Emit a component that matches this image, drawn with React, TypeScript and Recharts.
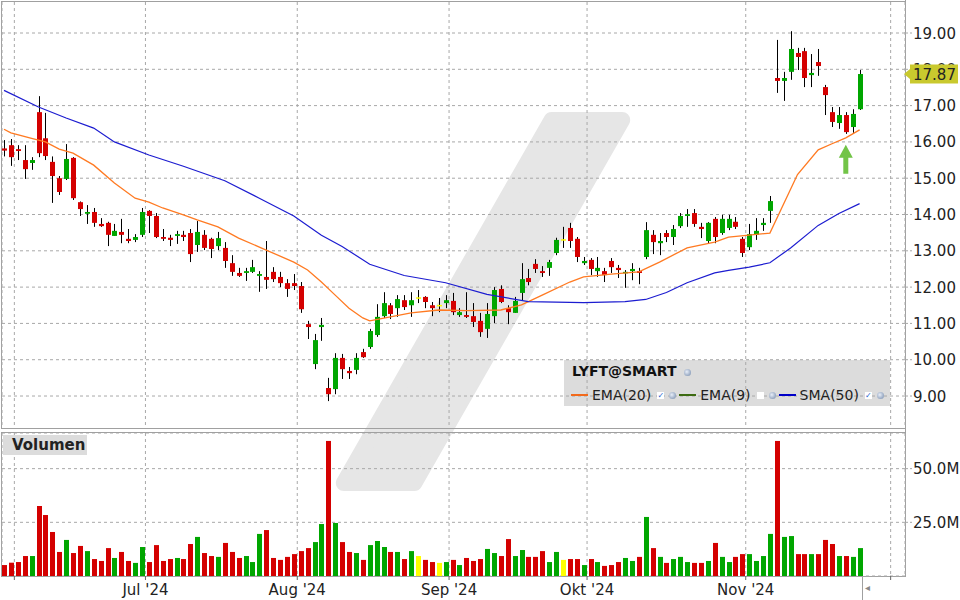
import React from 'react';
import {
  ComposedChart,
  Bar,
  Line,
  XAxis,
  YAxis,
  CartesianGrid,
  ReferenceDot,
} from 'recharts';

// daily OHLC (Jun - Nov 2024)
const opens = [
  15.82, 15.91, 15.8, 15.5, 15.42, 16.82, 16.1, 15.45, 15.0, 14.98,
  15.56, 14.34, 14.02, 14.07, 13.74, 13.77, 13.41, 13.52, 13.33, 13.3,
  13.44, 14.1, 13.96, 13.38, 13.36, 13.41, 13.44, 13.49, 13.16, 13.44,
  13.33, 13.13, 13.08, 12.66, 12.39, 12.39, 12.42, 12.31, 12.28, 12.42,
  12.28, 12.11, 12.11, 12.03, 10.98, 9.88, 10.9, 9.22, 9.19, 10.05,
  9.69, 9.72, 10.21, 10.35, 10.68, 11.2, 11.5, 11.42, 11.64, 11.5,
  11.72, 11.73, 11.5, 11.51, 11.56, 11.62, 11.23, 11.23, 11.2, 11.07,
  10.85, 11.2, 11.95, 11.42, 11.29, 11.84, 12.25, 12.64, 12.44, 12.53,
  12.94, 13.32, 13.63, 13.33, 12.66, 12.75, 12.44, 12.44, 12.72, 12.53,
  12.39, 12.44, 12.44, 12.83, 13.44, 13.21, 13.49, 13.38, 13.68, 13.96,
  14.04, 13.66, 13.27, 13.88, 13.49, 13.63, 13.8, 13.33, 13.1, 13.44,
  13.71, 14.1, 17.76, 17.68, 17.93, 18.45, 18.5, 17.84, 18.2, 17.51,
  16.82, 16.52, 16.74, 16.41, 16.9,
];
const highs = [
  16.05, 16.08, 15.91, 15.91, 15.58, 17.26, 16.8, 15.6, 15.06, 15.94,
  15.58, 14.36, 14.26, 14.18, 13.9, 13.8, 13.74, 13.88, 13.6, 13.46,
  14.18, 14.12, 14.04, 13.6, 13.44, 13.55, 13.55, 13.6, 13.82, 13.57,
  13.36, 13.52, 13.24, 12.88, 12.53, 12.53, 12.75, 12.44, 13.27, 12.55,
  12.42, 12.22, 12.36, 12.14, 11.07, 10.71, 11.15, 9.5, 10.18, 10.16,
  9.8, 10.18, 10.3, 10.85, 11.53, 11.86, 11.56, 11.78, 11.78, 11.86,
  11.92, 11.75, 11.59, 11.7, 11.78, 11.84, 11.42, 11.86, 11.56, 11.29,
  11.56, 12.0, 12.05, 11.5, 11.73, 12.66, 12.5, 12.77, 12.58, 12.75,
  13.36, 13.66, 13.77, 13.38, 12.83, 12.8, 12.83, 12.53, 12.8, 12.61,
  12.47, 12.66, 12.53, 13.79, 13.57, 13.49, 13.57, 13.71, 14.04, 14.15,
  14.15, 13.77, 13.79, 13.93, 13.99, 13.99, 13.93, 13.38, 13.74, 13.9,
  13.9, 14.51, 18.81, 17.93, 19.05, 18.59, 18.59, 18.42, 18.56, 17.57,
  16.96, 16.96, 16.82, 16.9, 17.98,
];
const lows = [
  15.6, 15.34, 15.5, 14.98, 15.23, 15.58, 15.5, 14.32, 14.54, 14.95,
  14.4, 13.96, 13.74, 13.66, 13.66, 13.13, 13.41, 13.21, 13.21, 13.24,
  13.38, 13.49, 13.35, 13.27, 13.13, 13.19, 13.27, 12.69, 12.97, 13.02,
  12.8, 13.02, 12.53, 12.31, 12.28, 12.17, 12.39, 11.87, 11.95, 12.14,
  12.0, 11.73, 11.92, 11.29, 10.57, 9.74, 10.52, 8.86, 9.05, 9.47,
  9.47, 9.6, 10.05, 10.3, 10.63, 11.15, 11.12, 11.18, 11.37, 11.18,
  11.56, 11.42, 11.2, 11.31, 11.42, 11.23, 11.18, 11.15, 10.9, 10.63,
  10.6, 11.01, 11.56, 10.98, 11.29, 11.64, 12.05, 12.39, 12.28, 12.31,
  12.88, 13.08, 13.08, 12.69, 12.61, 12.33, 12.28, 12.14, 12.39, 12.25,
  11.98, 12.19, 12.08, 12.77, 12.91, 12.88, 13.24, 13.16, 13.63, 13.66,
  13.66, 13.35, 13.21, 13.21, 13.44, 13.57, 13.6, 12.83, 13.02, 13.3,
  13.55, 13.77, 17.35, 17.13, 17.71, 17.98, 17.51, 17.51, 17.82, 16.74,
  16.41, 16.36, 16.22, 16.25, 16.88,
];
const closes = [
  15.76, 15.58, 15.75, 15.25, 15.5, 15.69, 15.61, 15.06, 14.62, 15.53,
  14.45, 14.15, 14.07, 13.77, 13.68, 13.44, 13.55, 13.44, 13.27, 13.38,
  14.07, 13.96, 13.38, 13.33, 13.3, 13.46, 13.38, 12.91, 13.52, 13.08,
  13.05, 13.35, 12.72, 12.42, 12.31, 12.44, 12.55, 12.36, 12.2, 12.22,
  12.11, 11.95, 12.03, 11.39, 10.9, 10.54, 10.96, 9.05, 10.05, 9.74,
  9.63, 10.05, 10.07, 10.79, 11.18, 11.56, 11.26, 11.67, 11.45, 11.64,
  11.72, 11.59, 11.42, 11.51, 11.64, 11.31, 11.31, 11.18, 11.04, 10.76,
  11.26, 11.92, 11.59, 11.31, 11.62, 12.22, 12.14, 12.5, 12.39, 12.69,
  13.3, 13.32, 13.27, 12.83, 12.72, 12.5, 12.53, 12.33, 12.55, 12.47,
  12.42, 12.5, 12.39, 13.57, 13.24, 13.27, 13.38, 13.6, 13.96, 14.01,
  13.74, 13.6, 13.77, 13.38, 13.88, 13.88, 13.66, 12.94, 13.46, 13.55,
  13.77, 14.37, 17.68, 17.76, 18.56, 18.34, 17.76, 17.9, 18.09, 17.29,
  16.55, 16.74, 16.27, 16.77, 17.87,
];
// volume in millions
const volumes = [
  5.1, 6.2, 6.5, 9.3, 9.3, 32.6, 28.4, 20.5, 11.2, 16.8,
  10.7, 14.0, 11.6, 7.9, 7.0, 13.0, 8.4, 11.2, 7.0, 6.1,
  13.5, 6.5, 14.4, 7.0, 7.9, 8.4, 7.9, 14.9, 18.2, 10.7,
  9.3, 8.9, 15.4, 11.2, 8.4, 9.3, 6.5, 19.6, 21.4, 8.4,
  7.5, 8.9, 10.2, 11.6, 13.0, 15.8, 24.2, 62.9, 24.7, 15.8,
  11.2, 10.7, 7.5, 14.4, 16.3, 13.5, 11.2, 11.2, 7.9, 11.6,
  9.3, 7.5, 6.5, 6.1, 6.5, 7.5, 5.1, 8.4, 7.0, 7.9,
  12.6, 10.7, 9.3, 17.2, 9.3, 12.1, 8.9, 8.9, 11.6, 6.5,
  11.2, 7.5, 7.9, 7.9, 5.1, 7.9, 6.5, 4.7, 5.1, 6.5,
  8.4, 7.0, 8.9, 27.5, 13.0, 8.9, 6.1, 7.9, 8.9, 6.5,
  6.1, 6.1, 7.0, 15.4, 8.9, 6.5, 8.9, 10.2, 10.2, 7.0,
  9.3, 19.6, 62.9, 18.2, 18.6, 10.2, 10.2, 10.2, 10.2, 16.8,
  14.9, 9.3, 9.3, 8.9, 13.0,
];
// [day index, value]
const ema20Points: [number, number][] = [
  [0, 16.35], [1, 16.25], [4, 16.1], [6, 16.0], [8, 15.8], [10, 15.69], [13, 15.36],
  [16, 14.87], [19, 14.45], [21, 14.34], [23, 14.18], [26, 13.99], [28, 13.85],
  [31, 13.66], [34, 13.35], [38, 13.02], [42, 12.69], [44, 12.47], [46, 12.14],
  [48, 11.78], [50, 11.42], [52, 11.15], [53, 11.07], [56, 11.18], [59, 11.29],
  [63, 11.37], [67, 11.35], [72, 11.37], [75, 11.51], [78, 11.78], [82, 12.14],
  [84, 12.28], [88, 12.36], [92, 12.42], [95, 12.69], [99, 13.08], [103, 13.24],
  [105, 13.38], [111, 13.49], [115, 15.1], [118, 15.78], [120, 15.95], [122, 16.11],
  [124, 16.33],
];
const sma50Points: [number, number][] = [
  [0, 17.42], [5, 16.96], [9, 16.66], [13, 16.38], [16, 16.0], [21, 15.64], [26, 15.33],
  [32, 14.93], [37, 14.45], [42, 13.96], [46, 13.43], [49, 13.12], [53, 12.63],
  [58, 12.32], [64, 12.12], [70, 11.8], [76, 11.6], [84, 11.57], [90, 11.6],
  [93, 11.66], [96, 11.85], [99, 12.12], [103, 12.39], [105, 12.46], [108, 12.55],
  [111, 12.67], [114, 13.08], [118, 13.7], [121, 14.03], [124, 14.3],
];
// month boundaries (between trading days) and their labels
const monthBounds = [1.5, 20.5, 42.5, 64.5, 84.5, 107.5, 128.5];
const monthLabels = ['', "Jul '24", "Aug '24", "Sep '24", "Okt '24", "Nov '24", ''];
const priceTicks = [9, 10, 11, 12, 13, 14, 15, 16, 17, 18, 19];
const volumeTicks = [25, 50];
const lastPrice = 17.87;
const arrowDay = 122;
const arrowPrice = 15.92;

const GREEN = '#00a600';
const RED = '#d40000';
const YELLOW = '#ffff00';
const GRID = '#a8a8a8';
const FONT = '"DejaVu Sans", Verdana, sans-serif';
const X_DOMAIN: [number, number] = [-0.29, 130.58];

const emaMap = new Map(ema20Points);
const smaMap = new Map(sma50Points);

const rows = opens.map((open, i) => ({
  i,
  open,
  high: highs[i],
  low: lows[i],
  close: closes[i],
  vol: volumes[i],
  ema20: emaMap.has(i) ? emaMap.get(i) : null,
  sma50: smaMap.has(i) ? smaMap.get(i) : null,
}));

const candleColor = (d: { open: number; close: number }) =>
  d.close > d.open ? GREEN : d.close < d.open ? RED : YELLOW;

function Candle(props: any) {
  const { x, y, width, height, payload } = props;
  if (x == null || !payload) return null;
  const { open, close, high, low } = payload;
  const ppu = high > low ? height / (high - low) : 0;
  const top = y + (high - Math.max(open, close)) * ppu;
  const bot = y + (high - Math.min(open, close)) * ppu;
  const cx = Math.round(x + width / 2) + 0.5;
  return (
    <g>
      <line x1={cx} x2={cx} y1={y} y2={y + height} stroke="#000" strokeWidth={1} />
      <rect x={cx - 2.5} y={top} width={5} height={Math.max(bot - top, 1.5)} fill={candleColor(payload)} />
    </g>
  );
}

function VolBar(props: any) {
  const { x, y, width, height, payload } = props;
  if (x == null || !payload) return null;
  const cx = Math.round(x + width / 2) + 0.5;
  return <rect x={cx - 2.5} y={y} width={5} height={height} fill={candleColor(payload)} />;
}

// right axis tick; the last price gets the yellow tag instead (drawn last, over 18.00)
function AxisTick(props: any) {
  const { x, y, payload, fmt } = props;
  if (payload.value === lastPrice) {
    return (
      <g>
        <path
          d={`M${x - 9},${y} L${x - 3},${y - 5} L${x - 3},${y - 9.5} L${x + 45},${y - 9.5} L${x + 45},${y + 9.5} L${x - 3},${y + 9.5} L${x - 3},${y + 5} Z`}
          fill="#c9c92e"
        />
        <text x={x} y={y} dy={5.5} fontSize={15} fill="#222" textAnchor="start" fontFamily={FONT}>
          {fmt(payload.value)}
        </text>
      </g>
    );
  }
  return (
    <g>
      <line x1={x - 8} x2={x - 1} y1={y} y2={y} stroke={GRID} strokeDasharray="3 2" />
      <text x={x} y={y} dy={5.5} fontSize={15} fill="#222" textAnchor="start" fontFamily={FONT}>
        {fmt(payload.value)}
      </text>
    </g>
  );
}

function UpArrow(props: any) {
  const { cx, cy } = props;
  if (cx == null) return null;
  return (
    <path
      d={`M${cx},${cy} L${cx + 7},${cy + 13} L${cx + 2.5},${cy + 13} L${cx + 2.5},${cy + 29} L${cx - 2.5},${cy + 29} L${cx - 2.5},${cy + 13} L${cx - 7},${cy + 13} Z`}
      fill="#72c447"
    />
  );
}

function Gear() {
  return (
    <span
      style={{
        display: 'inline-block',
        width: 7,
        height: 7,
        borderRadius: 4,
        background: 'radial-gradient(circle at 40% 40%, #e8eef8, #6f86a8)',
        margin: '0 3px',
      }}
    />
  );
}

function Check({ on }: { on: boolean }) {
  return (
    <span
      style={{
        display: 'inline-block',
        width: 7,
        height: 7,
        background: '#fff',
        color: '#1e5fd0',
        fontSize: 8,
        lineHeight: '7px',
        textAlign: 'center',
        margin: '0 2px 0 6px',
      }}
    >
      {on ? '✓' : ''}
    </span>
  );
}

function Swatch({ color }: { color: string }) {
  return <span style={{ display: 'inline-block', width: 17, height: 2, background: color, marginRight: 4, verticalAlign: 'middle' }} />;
}

export default function App() {
  const monthFmt = (v: number) => monthLabels[monthBounds.indexOf(v)] ?? '';
  return (
    <div style={{ position: 'absolute', left: 0, top: 0, width: 960, height: 600, background: '#fff', overflow: 'hidden', fontFamily: FONT }}>
      {/* watermark */}
      <svg width={960} height={600} style={{ position: 'absolute', left: 0, top: 0 }}>
        <polygon
          points="551.6,120 622.2,120 414.4,483 343.8,483"
          fill="#e6e6e6"
          stroke="#e6e6e6"
          strokeWidth={16}
          strokeLinejoin="round"
        />
      </svg>
      {/* panel frames */}
      <div style={{ position: 'absolute', left: 1, top: 1, width: 905, height: 428, border: '1px solid #a0a0a0', boxSizing: 'border-box' }} />
      <div style={{ position: 'absolute', left: 1, top: 432, width: 905, height: 145, border: '1px solid #a0a0a0', boxSizing: 'border-box' }} />
      <div style={{ position: 'absolute', left: 905, top: 0, width: 1, height: 577, background: '#a0a0a0' }} />

      {/* legend box */}
      <div style={{ position: 'absolute', left: 564, top: 360, width: 326, height: 46, background: 'rgba(185,185,185,0.5)' }} />

      <div style={{ position: 'absolute', left: 0, top: 0 }}>
        <ComposedChart width={960} height={430} data={rows} margin={{ top: 2, right: 0, bottom: 2, left: 2 }}>
          <CartesianGrid stroke={GRID} strokeDasharray="3 3" horizontalValues={priceTicks} />
          <XAxis dataKey="i" type="number" domain={X_DOMAIN} ticks={monthBounds} allowDataOverflow hide />
          <YAxis
            orientation="right"
            width={55}
            domain={[8.119, 19.854]}
            ticks={[...priceTicks, lastPrice]}
            allowDataOverflow
            axisLine={false}
            tickLine={false}
            tickSize={6}
            tickMargin={2}
            interval={0}
            tick={<AxisTick fmt={(v: number) => v.toFixed(2)} />}
          />
          <Bar
            dataKey={(d: any) => [d.low, d.high]}
            barSize={5}
            shape={<Candle />}
            isAnimationActive={false}
          />
          <Line type="linear" dataKey="ema20" stroke="#ff7a22" strokeWidth={1.3} dot={false} connectNulls isAnimationActive={false} />
          <Line type="linear" dataKey="sma50" stroke="#1c1cd0" strokeWidth={1.2} dot={false} connectNulls isAnimationActive={false} />
          <ReferenceDot x={arrowDay} y={arrowPrice} shape={<UpArrow />} />
        </ComposedChart>
      </div>

      <div style={{ position: 'absolute', left: 0, top: 433 }}>
        <ComposedChart width={960} height={167} data={rows} margin={{ top: 0, right: 0, bottom: 0, left: 2 }}>
          <CartesianGrid stroke={GRID} strokeDasharray="3 3" />
          <XAxis
            dataKey="i"
            type="number"
            domain={X_DOMAIN}
            ticks={monthBounds}
            allowDataOverflow
            interval={0}
            height={24}
            axisLine={false}
            tickSize={4}
            tickMargin={4}
            stroke="#666"
            tick={{ fontSize: 15, fill: '#222', fontFamily: FONT }}
            tickFormatter={monthFmt}
          />
          <YAxis
            orientation="right"
            width={55}
            domain={[0, 66.6]}
            ticks={volumeTicks}
            allowDataOverflow
            axisLine={false}
            tickLine={false}
            tickSize={6}
            tickMargin={2}
            interval={0}
            tick={<AxisTick fmt={(v: number) => v.toFixed(1) + 'M'} />}
          />
          <Bar dataKey="vol" barSize={5} shape={<VolBar />} isAnimationActive={false} />
        </ComposedChart>
      </div>

      {/* legend content */}
      <div style={{ position: 'absolute', left: 572, top: 363, fontSize: 14, fontWeight: 'bold', color: '#111', whiteSpace: 'nowrap' }}>
        LYFT@SMART <Gear />
      </div>
      <div style={{ position: 'absolute', left: 571, top: 386, fontSize: 14, color: '#222', whiteSpace: 'nowrap', display: 'flex', alignItems: 'center', height: 18 }}>
        <Swatch color="#f26a1b" />EMA(20)<Check on /><Gear />
        <Swatch color="#3d6b12" />EMA(9)<Check on={false} /><Gear />
        <Swatch color="#0000c8" />SMA(50)<Check on /><Gear />
      </div>

      {/* volume label */}
      <div style={{ position: 'absolute', left: 3, top: 435, width: 84, height: 20, background: '#dcdcdc', fontSize: 15, fontWeight: 'bold', color: '#222', lineHeight: '20px', paddingLeft: 9, boxSizing: 'border-box' }}>
        Volumen
      </div>

      {/* scroll control bottom right */}
      <div style={{ position: 'absolute', left: 862, top: 577, width: 1, height: 23, background: '#a0a0a0' }} />
      <div style={{ position: 'absolute', left: 865, top: 582, fontSize: 10, color: '#888' }}>◂</div>
    </div>
  );
}
